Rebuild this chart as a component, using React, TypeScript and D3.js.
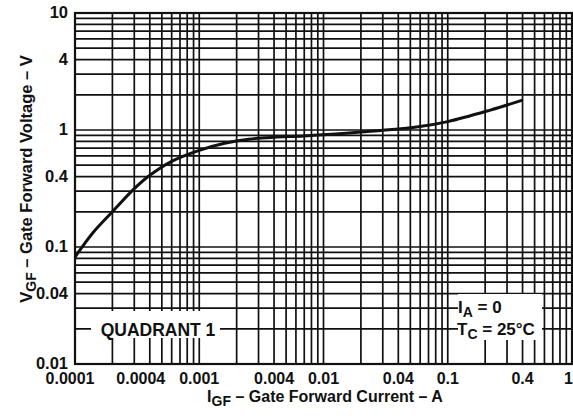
import React, { useEffect, useRef } from 'react';
import * as d3 from 'd3';

// gate forward current (A) vs gate forward voltage (V)
const currentA = [0.0001, 0.00014, 0.0002, 0.0003, 0.0004, 0.0006, 0.001, 0.0016, 0.0025, 0.004, 0.007, 0.02, 0.056, 0.1, 0.22, 0.4];
const voltageV = [0.082, 0.133, 0.2, 0.315, 0.41, 0.54, 0.67, 0.77, 0.835, 0.868, 0.89, 0.96, 1.06, 1.18, 1.48, 1.8];

const xTickValues = [0.0001, 0.0004, 0.001, 0.004, 0.01, 0.04, 0.1, 0.4, 1];
const xTickLabels = ['0.0001', '0.0004', '0.001', '0.004', '0.01', '0.04', '0.1', '0.4', '1'];
const yTickValues = [0.01, 0.04, 0.1, 0.4, 1, 4, 10];
const yTickLabels = ['0.01', '0.04', '0.1', '0.4', '1', '4', '10'];

const FONT = '"Liberation Sans", Arial, Helvetica, sans-serif';

export default function App() {
	const ref = useRef<SVGSVGElement>(null);

	useEffect(() => {
		const svg = d3.select(ref.current);
		svg.selectAll('*').remove();

		const left = 75, right = 572, top = 13, bottom = 364;
		const x = d3.scaleLog().domain([0.0001, 1]).range([left, right]);
		const y = d3.scaleLog().domain([0.01, 10]).range([bottom, top]);

		svg.append('rect').attr('width', 573).attr('height', 420).attr('fill', 'white');

		// log grid, every 1..9 of each decade
		const grid = svg.append('g').attr('stroke', '#111').attr('stroke-width', 1.7);
		grid.selectAll('line.v')
			.data(x.ticks())
			.enter().append('line')
			.attr('x1', d => x(d)).attr('x2', d => x(d))
			.attr('y1', top).attr('y2', bottom);
		grid.selectAll('line.h')
			.data(y.ticks())
			.enter().append('line')
			.attr('y1', d => y(d)).attr('y2', d => y(d))
			.attr('x1', left).attr('x2', right);

		svg.append('rect')
			.attr('x', left).attr('y', top)
			.attr('width', right - left).attr('height', bottom - top)
			.attr('fill', 'none').attr('stroke', '#111').attr('stroke-width', 2.2);

		// curve
		const pts: [number, number][] = currentA.map((c, i) => [c, voltageV[i]]);
		const line = d3.line<[number, number]>()
			.x(d => x(d[0])).y(d => y(d[1]))
			.curve(d3.curveCatmullRom.alpha(0.5));
		svg.append('path')
			.attr('d', line(pts))
			.attr('fill', 'none').attr('stroke', '#111').attr('stroke-width', 3);

		// note boxes
		svg.append('rect').attr('x', 91).attr('y', 311).attr('width', 129).attr('height', 27).attr('fill', 'white');
		svg.append('text')
			.text('QUADRANT 1')
			.attr('x', 158).attr('y', 336)
			.attr('text-anchor', 'middle')
			.attr('font-size', 17.5).attr('font-weight', 'bold').attr('font-family', FONT)
			.attr('fill', '#111');

		svg.append('rect').attr('x', 458).attr('y', 294).attr('width', 84).attr('height', 46).attr('fill', 'white');
		const ia = svg.append('text')
			.attr('x', 458).attr('y', 313)
			.attr('font-size', 17).attr('font-weight', 'bold').attr('font-family', FONT)
			.attr('fill', '#111');
		ia.append('tspan').text('I');
		ia.append('tspan').text('A').attr('font-size', 14).attr('dy', 4);
		ia.append('tspan').text(' = 0').attr('dy', -4);
		const tc = svg.append('text')
			.attr('x', 457).attr('y', 335)
			.attr('font-size', 17).attr('font-weight', 'bold').attr('font-family', FONT)
			.attr('fill', '#111');
		tc.append('tspan').text('T');
		tc.append('tspan').text('C').attr('font-size', 14).attr('dy', 4);
		tc.append('tspan').text(' = 25°C').attr('dy', -4);

		// tick labels (the crowded left ones sit a little to the left, the last one is kept inside)
		svg.append('g').selectAll('text')
			.data(xTickValues)
			.enter().append('text')
			.text((d, i) => xTickLabels[i])
			.attr('x', d => d === 1 ? right + 1 : x(d) - (d === 0.0001 ? 5 : d === 0.0004 ? 9 : 0))
			.attr('y', 384)
			.attr('text-anchor', d => d === 1 ? 'end' : 'middle')
			.attr('font-size', 16).attr('font-weight', 'bold').attr('font-family', FONT)
			.attr('fill', '#111');
		svg.append('g').selectAll('text')
			.data(yTickValues)
			.enter().append('text')
			.text((d, i) => yTickLabels[i])
			.attr('x', 68).attr('y', d => y(d) + 5)
			.attr('text-anchor', 'end')
			.attr('font-size', 16.5).attr('font-weight', 'bold').attr('font-family', FONT)
			.attr('fill', '#111');

		// axis titles
		const xt = svg.append('text')
			.attr('x', 325).attr('y', 402)
			.attr('text-anchor', 'middle')
			.attr('font-size', 16).attr('font-weight', 'bold').attr('font-family', FONT)
			.attr('fill', '#111');
		xt.append('tspan').text('I');
		xt.append('tspan').text('GF').attr('font-size', 14).attr('dy', 4);
		xt.append('tspan').text(' – Gate Forward Current – A').attr('dy', -4);

		const yt = svg.append('text')
			.attr('transform', 'translate(32,179) rotate(-90)')
			.attr('text-anchor', 'middle')
			.attr('font-size', 16.5).attr('font-weight', 'bold').attr('font-family', FONT)
			.attr('fill', '#111');
		yt.append('tspan').text('V');
		yt.append('tspan').text('GF').attr('font-size', 14).attr('dy', 4);
		yt.append('tspan').text(' – Gate Forward Voltage – V').attr('dy', -4);
	}, []);

	return (
		<svg ref={ref} width={573} height={420} style={{ position: 'absolute', left: 0, top: 0 }} />
	);
}
